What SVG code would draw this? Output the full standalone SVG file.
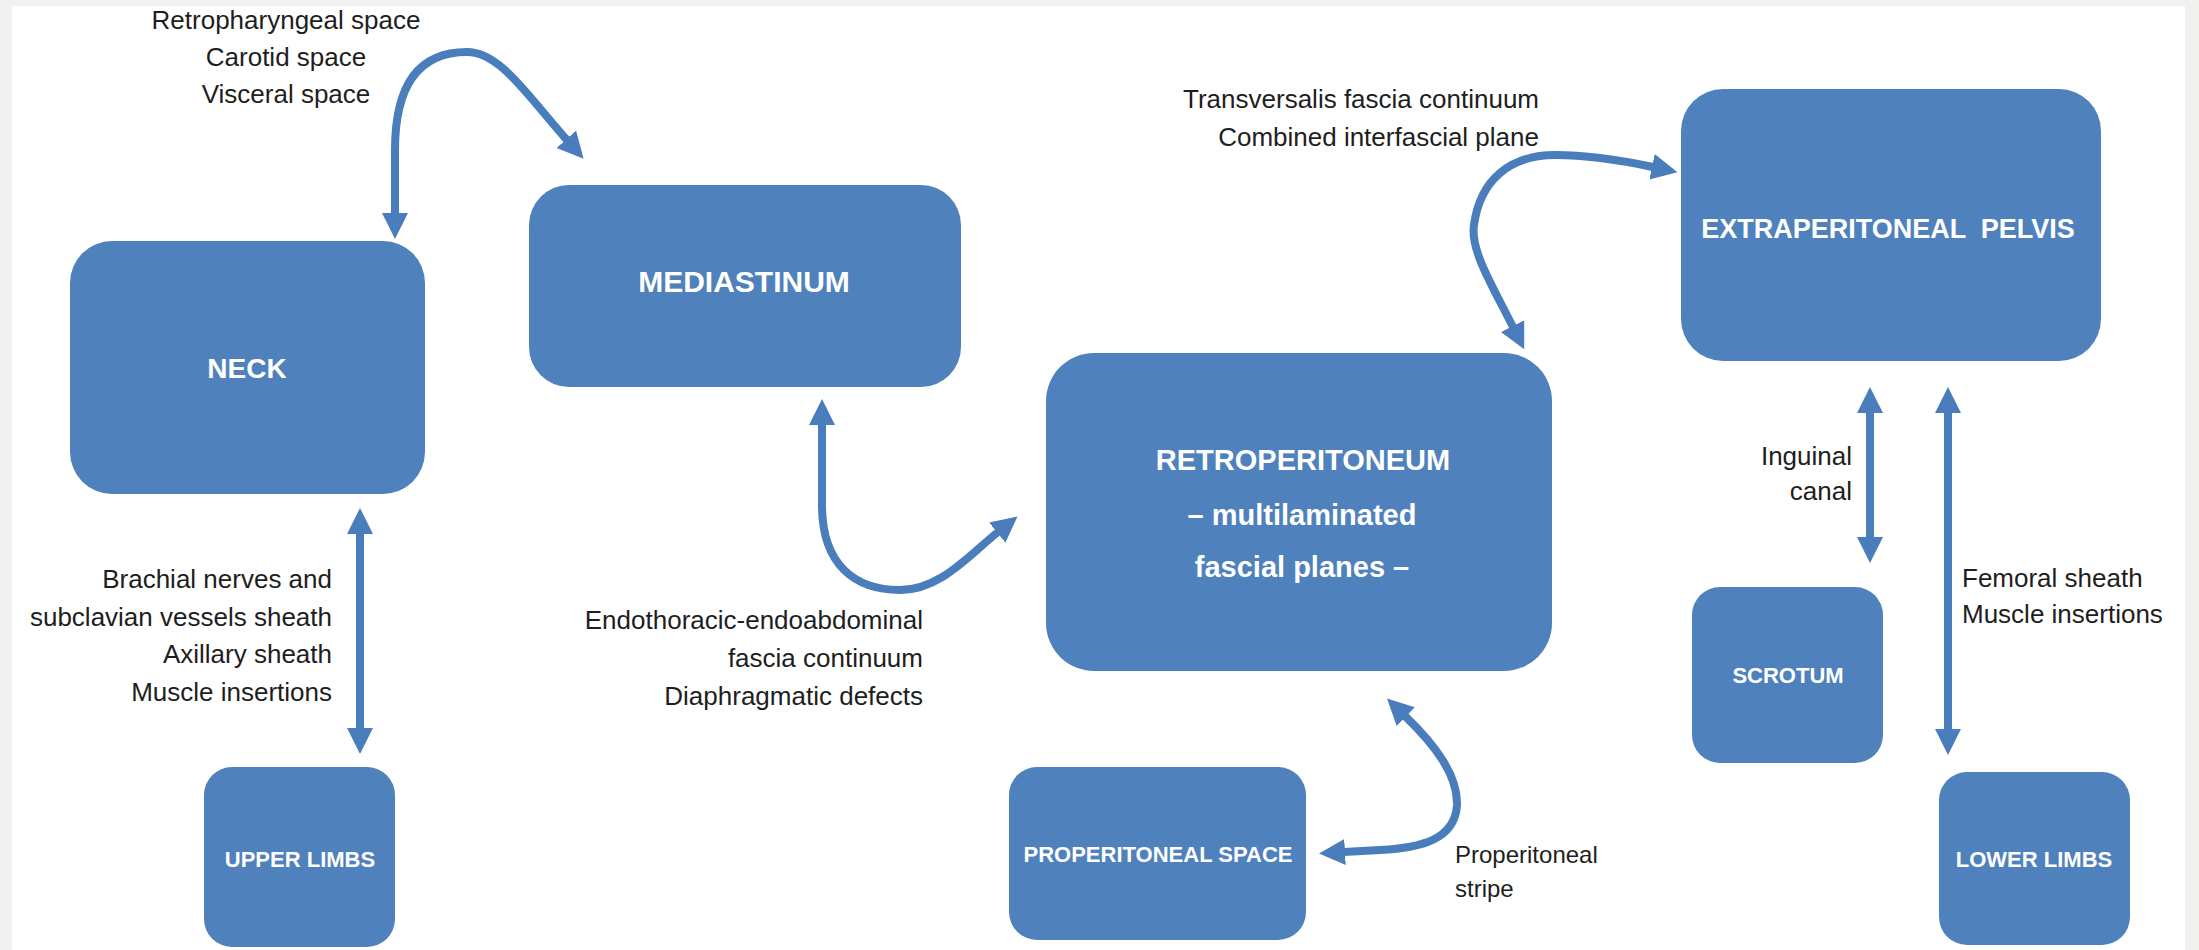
<svg xmlns="http://www.w3.org/2000/svg" width="2199" height="950" viewBox="0 0 2199 950">
  <style>
    .box { fill: #4f81bd; }
    .nl { font-family: "Liberation Sans", Arial, sans-serif; font-weight: bold; fill: #ffffff; text-anchor: middle; }
    .big { font-size: 28px; }
    .small { font-size: 22px; }
    .lbl { font-family: "Liberation Sans", Arial, sans-serif; font-size: 26px; fill: #1e1e1e; }
    .conn { fill: none; stroke: #4a7dbb; stroke-width: 8; }
  </style>
  <defs>
    <marker id="ah" viewBox="-1 -14 27 28" refX="0" refY="0" markerWidth="27" markerHeight="28" markerUnits="userSpaceOnUse" orient="auto-start-reverse">
      <path d="M-1,-13 L25,0 L-1,13 z" fill="#4a7dbb"/>
    </marker>
  </defs>

  <rect x="0" y="0" width="2199" height="950" fill="#f1f1ef"/>
  <rect x="12" y="6" width="2173" height="944" fill="#ffffff"/>

  <g id="connectors">
    <path class="conn" d="M395,214 L395,150 C395,95 412,52 467,52 C500,52 527,95 567,140" marker-start="url(#ah)" marker-end="url(#ah)"/>
    <path class="conn" d="M360,533 L360,729" marker-start="url(#ah)" marker-end="url(#ah)"/>
    <path class="conn" d="M822,424 L822,505 C822,565 855,590 900,590 C940,590 968,556 998,532" marker-start="url(#ah)" marker-end="url(#ah)"/>
    <path class="conn" d="M1513,327 C1492,285 1470,250 1474,225 C1480,180 1510,155 1555,155 C1590,155 1620,160 1653,167" marker-start="url(#ah)" marker-end="url(#ah)"/>
    <path class="conn" d="M1405,716 C1435,745 1458,775 1457,805 C1455,840 1420,848 1380,850 L1344,852" marker-start="url(#ah)" marker-end="url(#ah)"/>
    <path class="conn" d="M1870,412 L1870,538" marker-start="url(#ah)" marker-end="url(#ah)"/>
    <path class="conn" d="M1948,412 L1948,730" marker-start="url(#ah)" marker-end="url(#ah)"/>
  </g>

  <g id="neck">
    <rect class="box" x="70" y="241" width="355" height="253" rx="42" ry="42"/>
    <text class="nl big" x="247" y="378" font-size="27">NECK</text>
  </g>
  <g id="mediastinum">
    <rect class="box" x="529" y="185" width="432" height="202" rx="40" ry="40"/>
    <text class="nl big" x="744" y="292" style="font-size:30px">MEDIASTINUM</text>
  </g>
  <g id="retroperitoneum">
    <rect class="box" x="1046" y="353" width="506" height="318" rx="48" ry="48"/>
    <text class="nl big" x="1303" y="470" style="font-size:29px">RETROPERITONEUM</text>
    <text class="nl big" x="1302" y="525" style="font-size:29px">– multilaminated</text>
    <text class="nl big" x="1302" y="577" style="font-size:29px">fascial planes –</text>
  </g>
  <g id="extraperitoneal-pelvis">
    <rect class="box" x="1681" y="89" width="420" height="272" rx="42" ry="42"/>
    <text class="nl big" x="1888" y="238" style="font-size:27px; white-space:pre" xml:space="preserve">EXTRAPERITONEAL  PELVIS</text>
  </g>
  <g id="upper-limbs">
    <rect class="box" x="204" y="767" width="191" height="180" rx="28" ry="28"/>
    <text class="nl small" x="300" y="867">UPPER LIMBS</text>
  </g>
  <g id="properitoneal-space">
    <rect class="box" x="1009" y="767" width="297" height="173" rx="28" ry="28"/>
    <text class="nl small" x="1158" y="862">PROPERITONEAL SPACE</text>
  </g>
  <g id="scrotum">
    <rect class="box" x="1692" y="587" width="191" height="176" rx="28" ry="28"/>
    <text class="nl small" x="1788" y="683">SCROTUM</text>
  </g>
  <g id="lower-limbs">
    <rect class="box" x="1939" y="772" width="191" height="173" rx="28" ry="28"/>
    <text class="nl small" x="2034" y="867">LOWER LIMBS</text>
  </g>

  <g id="labels">
    <text class="lbl" x="286" y="29" text-anchor="middle">Retropharyngeal space</text>
    <text class="lbl" x="286" y="66" text-anchor="middle">Carotid space</text>
    <text class="lbl" x="286" y="103" text-anchor="middle">Visceral space</text>

    <text class="lbl" x="332" y="588" text-anchor="end">Brachial nerves and</text>
    <text class="lbl" x="332" y="626" text-anchor="end">subclavian vessels sheath</text>
    <text class="lbl" x="332" y="663" text-anchor="end">Axillary sheath</text>
    <text class="lbl" x="332" y="701" text-anchor="end">Muscle insertions</text>

    <text class="lbl" x="923" y="629" text-anchor="end">Endothoracic-endoabdominal</text>
    <text class="lbl" x="923" y="667" text-anchor="end">fascia continuum</text>
    <text class="lbl" x="923" y="705" text-anchor="end">Diaphragmatic defects</text>

    <text class="lbl" x="1539" y="108" text-anchor="end">Transversalis fascia continuum</text>
    <text class="lbl" x="1539" y="146" text-anchor="end">Combined interfascial plane</text>

    <text class="lbl" x="1852" y="465" text-anchor="end">Inguinal</text>
    <text class="lbl" x="1852" y="500" text-anchor="end">canal</text>

    <text class="lbl" x="1962" y="587" text-anchor="start">Femoral sheath</text>
    <text class="lbl" x="1962" y="623" text-anchor="start">Muscle insertions</text>

    <text class="lbl" x="1455" y="863" text-anchor="start" style="font-size:24px">Properitoneal</text>
    <text class="lbl" x="1455" y="897" text-anchor="start" style="font-size:24px">stripe</text>
  </g>
</svg>
